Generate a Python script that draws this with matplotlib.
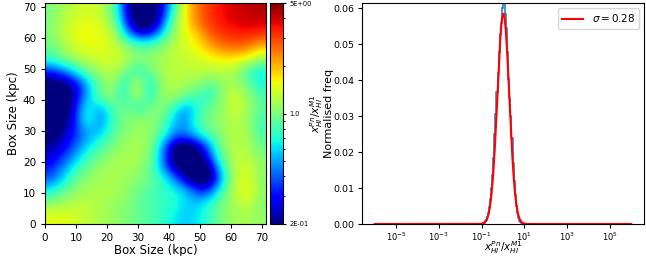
import numpy as np
import matplotlib
matplotlib.use("Agg")
import matplotlib.pyplot as plt
from matplotlib.colors import LogNorm
from matplotlib.ticker import FixedLocator, NullLocator, FormatStrFormatter

# box size of the map (kpc)
box_size = 71.4

# log10(x_HI^Pn / x_HI^M1) on a coarse 18x18 grid, rows from top (y~70) to bottom (y~2)
log_ratio = [
    [.0, .07, .12, .15, .12, -.05, -.6, -.8, -.8, -.65, -.21, .21, .4, .5, .56, .6, .62, .64],
    [.0, .11, .15, .18, .15, .01, -.5, -.8, -.8, -.6, -.05, .21, .4, .5, .55, .58, .6, .6],
    [.01, .11, .18, .21, .18, .11, -.28, -.65, -.65, -.31, .04, .18, .27, .44, .5, .53, .53, .5],
    [-.03, .07, .15, .18, .18, .15, .04, -.08, -.08, .01, .11, .15, .21, .32, .4, .42, .4, .28],
    [-.12, -.03, .07, .12, .15, .15, .11, .04, .04, .07, .11, .12, .15, .18, .21, .21, .15, .04],
    [-.5, -.4, -.22, -.03, .07, .11, .0, -.2, -.03, .07, .11, .11, .11, .11, .11, .07, -.1, -.2],
    [-.8, -.75, -.6, -.3, -.03, .07, -.22, .12, -.22, .04, .11, .07, .04, -.05, .04, .07, -.05, -.17],
    [-.82, -.8, -.65, -.3, -.03, .04, -.22, .12, -.22, .04, .07, -.03, -.1, -.17, .04, .15, .04, -.1],
    [-.85, -.8, -.6, -.15, -.33, -.08, .0, -.18, -.03, .04, -.14, -.35, -.14, -.03, .04, .15, .07, -.05],
    [-.82, -.75, -.55, -.12, -.38, -.15, .01, .04, .04, -.03, -.27, -.35, -.1, .01, .04, .11, .04, -.1],
    [-.78, -.68, -.48, -.3, -.28, -.08, .01, .05, .05, -.08, -.32, -.32, -.17, -.03, .04, .11, .07, -.1],
    [-.68, -.6, -.42, -.25, -.12, -.03, .05, .08, .04, -.3, -.75, -.8, -.7, -.3, .01, .11, .07, -.04],
    [-.6, -.48, -.3, -.12, -.03, .05, .08, .08, .01, -.38, -.82, -.85, -.8, -.5, -.03, .11, .11, .01],
    [-.5, -.33, -.15, -.03, .05, .08, .08, .05, -.03, -.3, -.68, -.82, -.85, -.8, -.22, .11, .15, .04],
    [-.38, -.22, -.03, .04, .08, .08, .05, .01, -.03, -.12, -.3, -.65, -.82, -.82, -.3, .11, .18, .01],
    [-.15, -.03, .04, .08, .08, .08, .05, -.03, -.08, -.12, -.15, -.22, -.45, -.38, -.08, .11, .2, .04],
    [.05, .08, .11, .11, .08, .05, .01, -.03, -.08, -.12, -.15, -.25, -.22, -.12, .01, .07, .11, .01],
    [.18, .18, .15, .11, .08, .05, .01, -.03, -.08, -.12, -.2, -.25, -.2, -.12, .01, .07, .07, .04],
]

# histogram of the ratio: bin edges in log10, normalised frequencies
hist_edges_log = np.arange(-1.0, 1.0001, 0.05)
hist_freq = [0.0001, 0.0002, 0.0004, 0.0007, 0.0012, 0.0020, 0.0031, 0.0047, 0.0070, 0.0100,
             0.0137, 0.0183, 0.0250, 0.0305, 0.0368, 0.0420, 0.0478, 0.0530, 0.0560, 0.0600,
             0.0640, 0.0620, 0.0585, 0.0545, 0.0480, 0.0405, 0.0350, 0.0300, 0.0240, 0.0170,
             0.0120, 0.0080, 0.0050, 0.0030, 0.0017, 0.0009, 0.0005, 0.0003, 0.0001, 0.0000]

# gaussian fit (in log10) shown as red line
fit_peak = 0.0585
fit_centre = 0.02
fit_sigma = 0.28

xtick_vals = [1e-5, 1e-3, 1e-1, 1e1, 1e3, 1e5]
box_ticks = [0, 10, 20, 30, 40, 50, 60, 70]

fig = plt.figure(figsize=(6.46, 2.56), dpi=100)
ax1 = fig.add_axes([0.0697, 0.125, 0.342, 0.863])
cax = fig.add_axes([0.418, 0.125, 0.0201, 0.863])
ax2 = fig.add_axes([0.560, 0.125, 0.437, 0.863])

# map
ratio = 10 ** np.array(log_ratio)
im = ax1.imshow(ratio, cmap='jet', norm=LogNorm(vmin=0.2, vmax=5),
                extent=[0, box_size, 0, box_size], origin='upper',
                interpolation='bicubic', aspect='auto')
ax1.set_xticks(box_ticks)
ax1.set_yticks(box_ticks)
ax1.tick_params(labelsize=7.5, length=3)
ax1.set_xlabel('Box Size (kpc)', fontsize=8.5, labelpad=1)
ax1.set_ylabel('Box Size (kpc)', fontsize=8.5, labelpad=2)

cb = fig.colorbar(im, cax=cax)
cb.set_ticks([0.2, 1.0, 5.0])
cb.set_ticklabels(['2E-01', '1.0', '5E+00'])
cb.ax.tick_params(labelsize=4.8, length=2.5, pad=2)
cb.ax.tick_params(which='minor', length=1.5)
cb.set_label(r'$x_{HI}^{Pn}/x_{HI}^{M1}$', fontsize=7.5)
cb.ax.yaxis.set_label_coords(2.95, 0.5)

# histogram
hist_edges = 10 ** hist_edges_log
ax2.stairs(hist_freq, hist_edges, color='C0', lw=1.1)
xfit = np.logspace(-6, 6, 2000)
yfit = fit_peak * np.exp(-(np.log10(xfit) - fit_centre) ** 2 / (2 * fit_sigma ** 2))
ax2.plot(xfit, yfit, color='red', lw=1.5, label=r'$\sigma = 0.28$')
ax2.set_xscale('log')
ax2.set_xlim(10 ** -6.6, 10 ** 6.6)
ax2.set_ylim(0, 0.0615)
ax2.xaxis.set_major_locator(FixedLocator(xtick_vals))
ax2.xaxis.set_minor_locator(NullLocator())
ax2.yaxis.set_major_formatter(FormatStrFormatter('%.2f'))
ax2.tick_params(axis='y', labelsize=6.8, length=3, pad=2.5)
ax2.tick_params(axis='x', labelsize=6, length=3, pad=1.5)
ax2.set_xlabel(r'$x_{HI}^{Pn}/x_{HI}^{M1}$', fontsize=7.5)
ax2.xaxis.set_label_coords(0.5, -0.07)
ax2.set_ylabel('Normalised freq', fontsize=8)
ax2.yaxis.set_label_coords(-0.098, 0.5)
ax2.legend(loc='upper right', fontsize=7.5, handlelength=2)

fig.savefig('out.png', dpi=100)
